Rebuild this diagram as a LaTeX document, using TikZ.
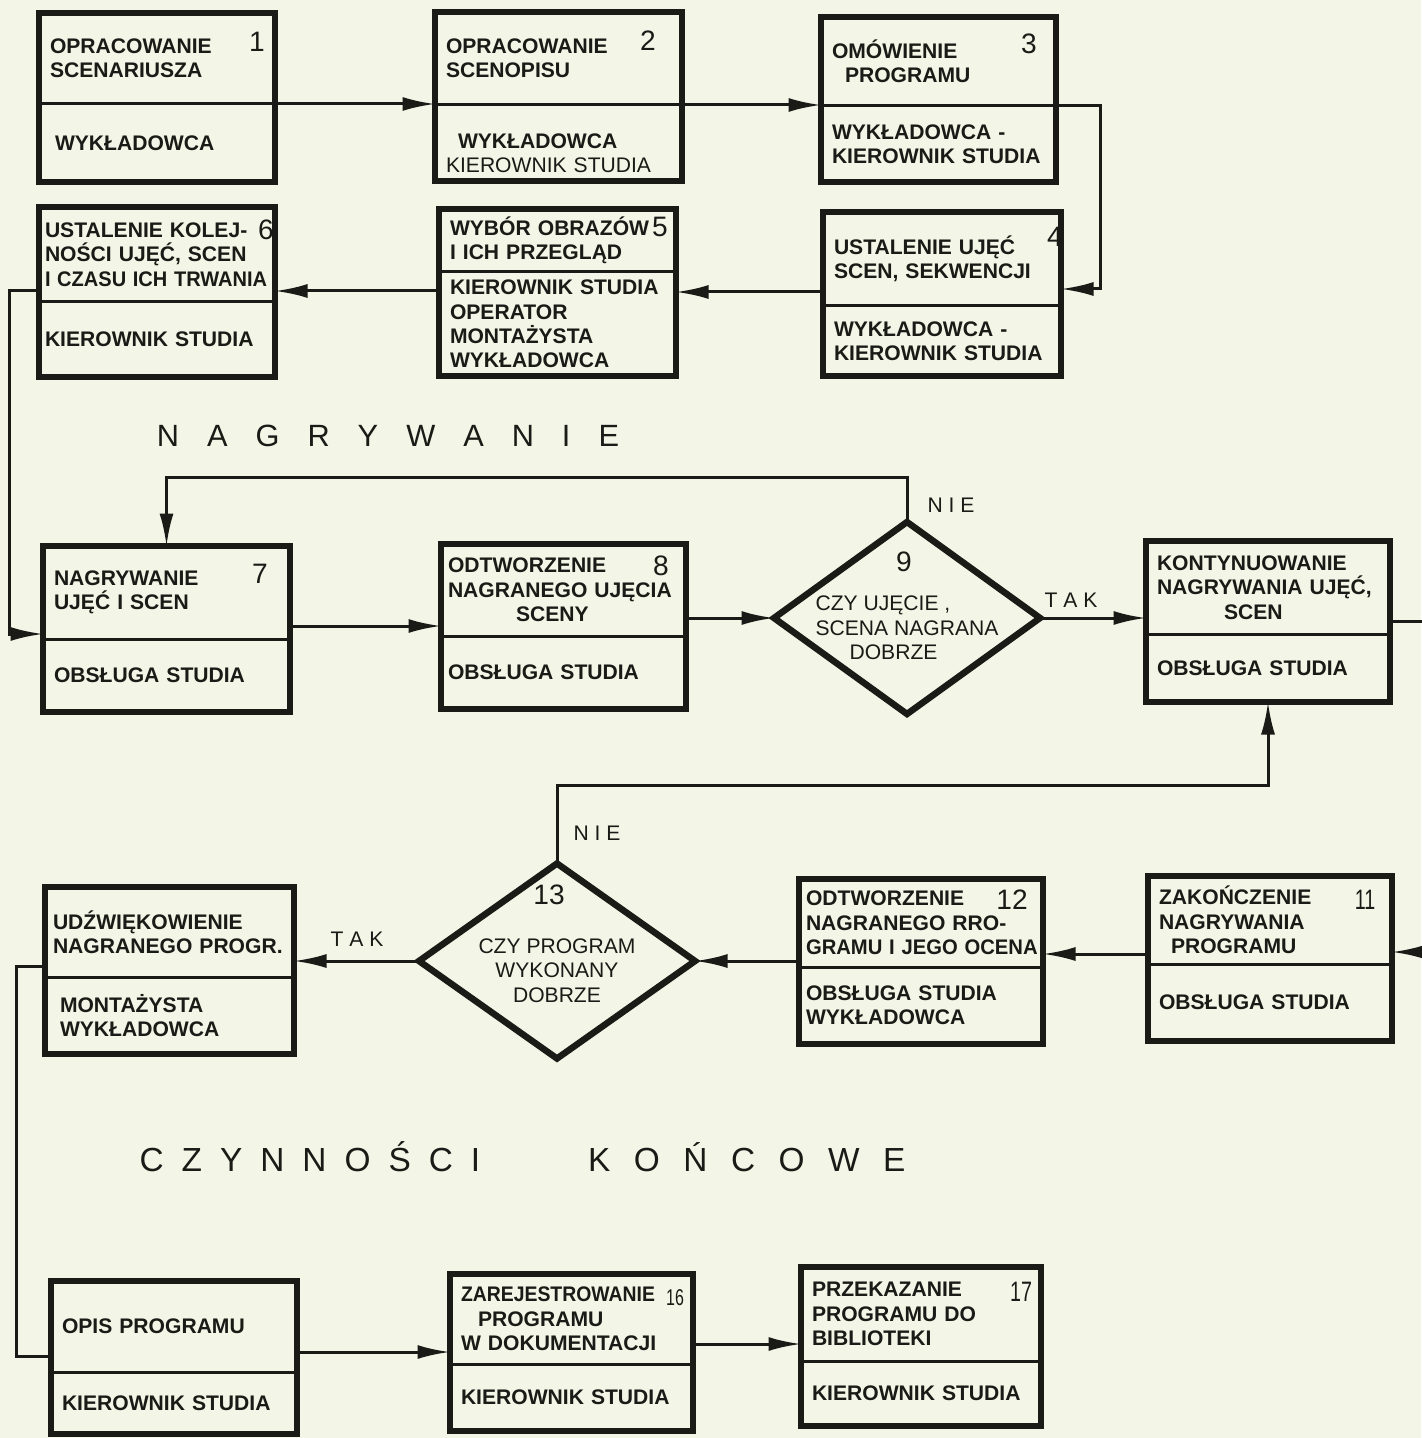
\documentclass[tikz,border=0pt]{standalone}
\usepackage{fontspec}
\setmainfont{Liberation Sans}
\usepackage{graphicx}
\usetikzlibrary{positioning,shapes.geometric,arrows.meta}

\definecolor{paper}{RGB}{243,245,230}
\definecolor{ink}{RGB}{26,26,22}
\newcommand\boxfont{\fontsize{12}{13.9}\selectfont\bfseries\hyphenpenalty=10000\exhyphenpenalty=10000}
\newcommand\askfont{\fontsize{12}{13.9}\selectfont}

\begin{document}
\begin{tikzpicture}
[every node/.style={inner sep=0mm,outer sep=0mm,text=ink},
 task/.style={rectangle,text width=#1,inner xsep=2.2mm,align=left,font=\boxfont},
 role/.style={task=#1},
 ask/.style={diamond,draw=ink,line width=1.3mm},
 asktext/.style={font=\askfont},
 num/.style={font=\fontsize{16}{16}\selectfont},
 note/.style={font=\askfont},
 heading/.style={font=\fontsize{17.5}{20}\selectfont},
 boxframe/.style={draw=ink,line width=1.2mm},
 divider/.style={draw=ink,line width=0.6mm},
 wire/.style={draw=ink,line width=0.6mm},
 link/.style={wire,-{Latex[length=6.5mm,width=2.8mm]}}]
\fill[paper] (0mm,0mm) rectangle (284.2mm,-287.6mm);
\useasboundingbox (0mm,0mm) rectangle (284.2mm,-287.6mm);
% przygotowanie
\node[task=42.8mm,minimum height=18.2mm] (b1) at (31.4mm,-11.7mm) {OPRACOWANIE\\SCENARIUSZA};
\node[role=42.8mm,minimum height=15.6mm] (r1) [below=0mm of b1] {\hspace*{1mm}WYKŁADOWCA};
\node[task=45mm,minimum height=18.6mm]   (b2) [on grid,right=80.3mm of b1] {OPRACOWANIE\\SCENOPISU};
\node[role=45mm,minimum height=15.2mm]   (r2) [below=0mm of b2] {\rule{0pt}{7mm}\hspace*{2.4mm}WYKŁADOWCA\\{\mdseries KIEROWNIK STUDIA}};
\node[task=42.6mm,minimum height=17.8mm] (b3) [on grid,below right=0.6mm and 76mm of b2] {OMÓWIENIE\\\hspace*{2.6mm}PROGRAMU};
\node[role=42.6mm,minimum height=15.2mm] (r3) [below=0mm of b3] {WYKŁADOWCA -\\KIEROWNIK STUDIA};
\node[task=43.2mm,minimum height=18.8mm] (b4) [on grid,below right=39.5mm and 0.7mm of b3] {USTALENIE UJĘĆ\\SCEN, SEKWENCJI};
\node[role=43.2mm,minimum height=14mm]   (r4) [below=0mm of b4] {WYKŁADOWCA -\\KIEROWNIK STUDIA};
\node[task=43mm,minimum height=12.6mm]   (b5) [on grid,above left=3.7mm and 76.9mm of b4] {WYBÓR OBRAZÓW\\I ICH PRZEGLĄD};
\node[role=43mm,minimum height=20.8mm]   (r5) [below=0mm of b5] {KIEROWNIK STUDIA\\OPERATOR\\MONTAŻYSTA\\WYKŁADOWCA};
\node[task=44.8mm,inner xsep=1.2mm,minimum height=19mm] (b6) [on grid,below left=2.8mm and 80.1mm of b5] {USTALENIE KOLEJ-\\NOŚCI UJĘĆ, SCEN\\\scalebox{0.95}[1]{I CZASU ICH TRWANIA}};
\node[role=44.8mm,inner xsep=1.2mm,minimum height=15mm] (r6) [below=0mm of b6] {KIEROWNIK STUDIA};
% nagrywanie
\node[task=45mm,minimum height=18.6mm]   (b7) [on grid,below right=67.6mm and 1.9mm of b6] {NAGRYWANIE\\UJĘĆ I SCEN};
\node[role=45mm,minimum height=14.6mm]   (r7) [below=0mm of b7] {OBSŁUGA STUDIA};
\node[task=46.2mm,inner xsep=1.4mm,minimum height=18.4mm] (b8) [on grid,above right=0.5mm and 79.4mm of b7] {ODTWORZENIE\\NAGRANEGO UJĘCIA\\\hspace*{13.6mm}SCENY};
\node[role=46.2mm,inner xsep=1.4mm,minimum height=14.6mm] (r8) [below=0mm of b8] {OBSŁUGA STUDIA};
\node[ask,minimum width=53.2mm,minimum height=38.4mm] (d9) [on grid,below right=5.6mm and 68.7mm of b8] {};
\node[asktext,align=left] (q9) at ([yshift=-2mm]d9.center) {CZY UJĘCIE ,\\SCENA NAGRANA\\\hspace*{6.8mm}DOBRZE};
\node[task=44.4mm,minimum height=18.6mm] (b10) [on grid,above right=6.1mm and 72.2mm of d9] {KONTYNUOWANIE\\NAGRYWANIA UJĘĆ,\\\hspace*{13.4mm}SCEN};
\node[role=44.4mm,minimum height=13.6mm] (r10) [below=0mm of b10] {OBSŁUGA STUDIA};
\node[task=44.4mm,minimum height=17.6mm] (b11) [on grid,below right=66.5mm and 0.4mm of b10] {ZAKOŃCZENIE\\NAGRYWANIA\\\hspace*{2.4mm}PROGRAMU};
\node[role=44.4mm,minimum height=15.4mm] (r11) [below=0mm of b11] {OBSŁUGA STUDIA};
\node[task=46mm,inner xsep=1.4mm,minimum height=17.6mm] (b12) [on grid,below left=0.6mm and 69.8mm of b11] {ODTWORZENIE\\NAGRANEGO RRO-\\\scalebox{0.96}[1]{GRAMU I JEGO OCENA}};
\node[role=46mm,inner xsep=1.4mm,minimum height=15.4mm] (r12) [below=0mm of b12] {OBSŁUGA STUDIA\\WYKŁADOWCA};
\node[ask,minimum width=55.2mm,minimum height=39mm] (d13) [on grid,below left=7.6mm and 72.8mm of b12] {};
\node[asktext,align=center] (q13) at ([yshift=-1.9mm]d13.center) {CZY PROGRAM\\WYKONANY\\DOBRZE};
\node[task=46.6mm,inner xsep=1.6mm,minimum height=18mm] (b14) [on grid,above left=5.8mm and 77.5mm of d13] {UDŹWIĘKOWIENIE\\NAGRANEGO PROGR.};
\node[role=46.6mm,inner xsep=1.6mm,minimum height=15.4mm] (r14) [below=0mm of b14] {\hspace*{1.4mm}MONTAŻYSTA\\\hspace*{1.4mm}WYKŁADOWCA};
% czynnosci koncowe
\node[task=44.8mm,minimum height=18.2mm] (b15) [on grid,below right=78.9mm and 0.9mm of b14] {OPIS PROGRAMU};
\node[role=44.8mm,minimum height=12.4mm] (r15) [below=0mm of b15] {KIEROWNIK STUDIA};
\node[task=44.2mm,minimum height=18mm]   (b16) [on grid,above right=1.5mm and 79.5mm of b15] {\scalebox{0.92}[1]{ZAREJESTROWANIE}\\\hspace*{3.4mm}PROGRAMU\\W DOKUMENTACJI};
\node[role=44.2mm,minimum height=13.4mm] (r16) [below=0mm of b16] {KIEROWNIK STUDIA};
\node[task=43.6mm,minimum height=18.8mm] (b17) [on grid,above right=1mm and 69.9mm of b16] {PRZEKAZANIE\\PROGRAMU DO\\BIBLIOTEKI};
\node[role=43.6mm,minimum height=13mm]   (r17) [below=0mm of b17] {KIEROWNIK STUDIA};
% numery
\node[num] (n1)  at ([shift={(-3.6mm,-5.8mm)}]b1.north east)  {1};
\node[num] (n2)  at ([shift={(-6.8mm,-5.8mm)}]b2.north east)  {2};
\node[num] (n3)  at ([shift={(-5.4mm,-5.4mm)}]b3.north east)  {3};
\node[num] (n4)  at ([shift={(-1.2mm,-5mm)}]b4.north east)    {4};
\node[num] (n5)  at ([shift={(-3.2mm,-3.6mm)}]b5.north east)  {5};
\node[num] (n6)  at ([shift={(-1.8mm,-4.6mm)}]b6.north east)  {6};
\node[num] (n7)  at ([shift={(-6mm,-5.6mm)}]b7.north east)    {7};
\node[num] (n8)  at ([shift={(-5mm,-4.4mm)}]b8.north east)    {8};
\node[num] (n9)  at ([shift={(-0.6mm,11.2mm)}]d9.center)      {9};
\node[num] (n11) at ([shift={(-5.4mm,-4.8mm)}]b11.north east) {\scalebox{0.7}[1]{11}};
\node[num] (n12) at ([shift={(-6.2mm,-4.2mm)}]b12.north east) {12};
\node[num] (n13) at ([shift={(-1.6mm,13.2mm)}]d13.center)     {13};
\node[num,font=\fontsize{13}{13}\selectfont] (n16) at ([shift={(-3.6mm,-4.8mm)}]b16.north east) {\scalebox{0.7}[1]{16}};
\node[num] (n17) at ([shift={(-4mm,-5mm)}]b17.north east)     {\scalebox{0.7}[1]{17}};
% napisy
\node[heading] (nagr) at (77.6mm,-87.2mm) {\spaceskip=5.6mm N A G R Y W A N I E};
\node[heading,font=\fontsize{19}{22}\selectfont] (konc) at (104.5mm,-231.4mm) {{\spaceskip=3.6mm C Z Y N N O Ś C I}\hspace{21.6mm}{\spaceskip=4.7mm K O Ń C O W E}};
\node[note] (nie9)  at ([shift={(8.8mm,3.4mm)}]d9.north)   {N I E};
\node[note] (tak9)  at ([shift={(6.2mm,3.6mm)}]d9.east)    {T A K};
\node[note] (nie13) at ([shift={(8mm,6mm)}]d13.north)      {N I E};
\node[note] (tak13) at ([shift={(-12.4mm,4.4mm)}]d13.west) {T A K};
% ramki
\draw[boxframe] (b1.north west)  rectangle (r1.south east);
\draw[boxframe] (b2.north west)  rectangle (r2.south east);
\draw[boxframe] (b3.north west)  rectangle (r3.south east);
\draw[boxframe] (b4.north west)  rectangle (r4.south east);
\draw[boxframe] (b5.north west)  rectangle (r5.south east);
\draw[boxframe] (b6.north west)  rectangle (r6.south east);
\draw[boxframe] (b7.north west)  rectangle (r7.south east);
\draw[boxframe] (b8.north west)  rectangle (r8.south east);
\draw[boxframe] (b10.north west) rectangle (r10.south east);
\draw[boxframe] (b11.north west) rectangle (r11.south east);
\draw[boxframe] (b12.north west) rectangle (r12.south east);
\draw[boxframe] (b14.north west) rectangle (r14.south east);
\draw[boxframe] (b15.north west) rectangle (r15.south east);
\draw[boxframe] (b16.north west) rectangle (r16.south east);
\draw[boxframe] (b17.north west) rectangle (r17.south east);
\draw[divider] (b1.south west)  -- (b1.south east);
\draw[divider] (b2.south west)  -- (b2.south east);
\draw[divider] (b3.south west)  -- (b3.south east);
\draw[divider] (b4.south west)  -- (b4.south east);
\draw[divider] (b5.south west)  -- (b5.south east);
\draw[divider] (b6.south west)  -- (b6.south east);
\draw[divider] (b7.south west)  -- (b7.south east);
\draw[divider] (b8.south west)  -- (b8.south east);
\draw[divider] (b10.south west) -- (b10.south east);
\draw[divider] (b11.south west) -- (b11.south east);
\draw[divider] (b12.south west) -- (b12.south east);
\draw[divider] (b14.south west) -- (b14.south east);
\draw[divider] (b15.south west) -- (b15.south east);
\draw[divider] (b16.south west) -- (b16.south east);
\draw[divider] (b17.south west) -- (b17.south east);
% polaczenia
\coordinate (c34)   at ([yshift=3.4mm]b4.south east);
\coordinate (c45)   at ([yshift=2.8mm]b4.south west);
\coordinate (c56)   at ([yshift=2.2mm]b6.south east);
\coordinate (c67)   at ([yshift=1mm]b7.south west);
\coordinate (c78)   at ([yshift=2.6mm]b7.south east);
\coordinate (c1011) at ([yshift=2.6mm]b10.south east);
\coordinate (c11)   at ([yshift=2.4mm]b11.south east);
\coordinate (c1112) at ([yshift=2mm]b11.south west);
\coordinate (c14)   at ([yshift=2.2mm]b14.south west);
\coordinate (c15)   at ([yshift=3.2mm]b15.south west);
\coordinate (c1516) at ([yshift=4mm]b15.south east);
\coordinate (c1617) at ([yshift=4mm]b16.south east);
\draw[link] (b1.south east) -- (b1.south east -| b2.west);
\draw[link] (b2.south east) -- (b2.south east -| b3.west);
\draw[link] (b3.south east) -- ++(8.8mm,0) |- (c34);
\draw[link] (c45) -- (c45 -| b5.east);
\draw[link] (c56 -| b5.west) -- (c56);
\draw[link] (c56 -| b6.west) -- ++(-6mm,0) |- (c67);
\draw[link] (c78) -- (c78 -| b8.west);
\draw[link] (d9.west -| b8.east) -- (d9.west);
\draw[link] (d9.east) -- (d9.east -| b10.west);
\draw[link] (d9.north) -- ++(0,9mm) -| (b7.north);
\draw[link] (c1011) -- ++(7mm,0) |- (c11);
\draw[link] (c1112) -- (c1112 -| b12.east);
\draw[link] (d13.east -| b12.west) -- (d13.east);
\draw[link] (d13.north) -- ++(0,15.6mm) -| (r10.south);
\draw[link] (d13.west) -- (d13.west -| b14.east);
\draw[wire] (c14) -- ++(-5.8mm,0) |- (c15);
\draw[link] (c1516) -- (c1516 -| b16.west);
\draw[link] (c1617) -- (c1617 -| b17.west);
\end{tikzpicture}
\end{document}
